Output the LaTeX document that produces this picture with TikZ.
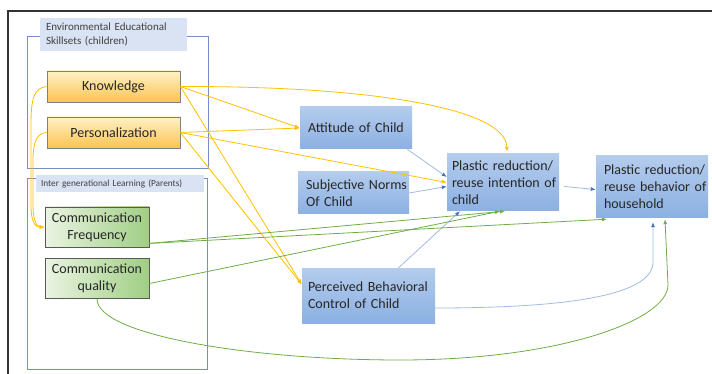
\documentclass[tikz,border=0pt]{standalone}
\usepackage{fontspec}
\setmainfont{Carlito}
\usetikzlibrary{arrows.meta,shadings}

\definecolor{ylwtop}{RGB}{255,241,200}
\definecolor{ylwbot}{RGB}{251,196,80}
\definecolor{ylwline}{RGB}{255,192,0}
\definecolor{grnleft}{RGB}{234,244,226}
\definecolor{grnright}{RGB}{160,206,132}
\definecolor{grnline}{RGB}{112,173,71}
\definecolor{blutop}{RGB}{180,204,237}
\definecolor{blubot}{RGB}{139,176,226}
\definecolor{bluline}{RGB}{162,186,228}
\definecolor{bluhead}{RGB}{68,114,196}
\definecolor{grpline}{RGB}{118,143,200}
\definecolor{grpfill}{RGB}{218,227,243}
\definecolor{boxline}{RGB}{128,128,128}

\begin{document}
\begin{tikzpicture}[x=1pt,y=-1pt,
  every node/.style={font=\fontsize{14}{17}\selectfont, text=black!85},
  ylwbox/.style={draw=boxline, line width=0.8pt, top color=ylwtop, bottom color=ylwbot,
    minimum width=133pt, minimum height=31pt, inner sep=0pt},
  grnbox/.style={draw=black!65, line width=0.8pt, left color=grnleft, right color=grnright,
    minimum width=104pt, minimum height=40pt, inner sep=0pt, align=center},
  blubox/.style={top color=blutop, bottom color=blubot, inner ysep=0pt, align=left},
  grpframe/.style={draw=grpline, line width=0.8pt},
  grptitle/.style={fill=grpfill, inner ysep=0pt, align=left, text=black!75},
  ylwarrow/.style={draw=ylwline, line width=0.8pt, -{Latex[length=5pt,width=4pt]}},
  bluarrow/.style={draw=bluline, line width=0.8pt, -{Latex[length=5pt,width=4pt,color=bluhead]}},
  grnarrow/.style={draw=grnline, line width=0.8pt, -{Latex[length=5pt,width=4pt]}}
]
\useasboundingbox (0,0) rectangle (712,374);

% page frame
\draw[line width=1.3pt, black!80] (8,374) -- (8,11) -- (712,11);

% group frames and their titles
\draw[grpframe] (27,36) rectangle (208,168);
\draw[grpframe] (27,178) rectangle (207,369);
\node[grptitle, minimum width=147pt, minimum height=33pt, inner xsep=6pt, text width=135pt,
  font=\fontsize{11}{14}\selectfont] (skills) at (113.5,34.5)
  {Environmental Educational\\Skillsets (children)};
\node[grptitle, minimum width=168pt, minimum height=17pt, inner xsep=5pt, text width=158pt,
  font=\fontsize{9.3}{11}\selectfont] (parents) at (120,183.5)
  {Inter generational Learning (Parents)};

% boxes
\node[ylwbox] (know) at (113.5,86.5) {Knowledge};
\node[ylwbox] (pers) at (113.5,132.5) {Personalization};
\node[grnbox] (cf) at (97,227) {Communication\\Frequency};
\node[grnbox] (cq) at (97,278.5) {Communication\\quality};

\node[blubox, minimum height=42pt, inner xsep=6pt, text width=100pt, align=center] (att) at (356,128)
  {Attitude of Child};
\node[blubox, minimum height=42pt, inner xsep=8pt, text width=95pt] (sn) at (353.5,193)
  {\mbox{Subjective Norms}\\Of Child};
\node[blubox, minimum height=57pt, inner xsep=5pt, text width=102pt] (int) at (503,182.5)
  {\mbox{Plastic reduction/}\\\mbox{reuse intention of}\\child};
\node[blubox, minimum height=62pt, inner xsep=8pt, text width=96pt] (beh) at (652,187)
  {\mbox{Plastic reduction/}\\\mbox{reuse behavior of}\\household};
\node[blubox, minimum height=55pt, inner xsep=6pt, text width=121pt] (pbc) at (368.5,295.5)
  {\mbox{Perceived Behavioral}\\Control of Child};

% skill-set links
\draw[ylwarrow] (know.east) -- (att.west);
\draw[ylwarrow] (pers.east) -- (att.west);
\draw[ylwarrow] (know.east) -- ([yshift=11pt]pbc.west);
\draw[ylwarrow] (pers.east) -- ([yshift=11pt]pbc.west);
\draw[ylwarrow] (pers.east) -- (int.west);
\draw[ylwarrow] (know.east) .. controls (370,86) and (506,108) .. ([xshift=4pt,yshift=2pt]int.north);
\draw[ylwarrow] (know.west) .. controls (34,88) and (31,98) .. (31,125) -- (31,205)
  .. controls (31,222) and (35,227) .. (cf.west);
\draw[ylwarrow] (pers.west) .. controls (38,133) and (33,140) .. (33,160) -- (33,205)
  .. controls (33,221) and (37,227) .. (cf.west);

% theory-of-planned-behaviour links
\draw[bluarrow] ([xshift=-5pt]att.south east) -- ([yshift=5.5pt]int.west);
\draw[bluarrow] (sn.east) -- ([yshift=-4pt]int.west);
\draw[bluarrow] ([xshift=30pt]pbc.north) -- ([xshift=-43pt]int.south);
\draw[bluarrow] ([xshift=5pt,yshift=-4pt]int.east) -- ([yshift=-2.5pt]beh.west);
\draw[bluarrow] ([yshift=-12.5pt]pbc.east) .. controls (570,308) and (653,295) .. (653,262)
  -- ([xshift=1pt,yshift=-4pt]beh.south);

% parent communication links
\draw[grnarrow] ([yshift=4pt]cf.south east) -- ([xshift=2pt]int.south);
\draw[grnarrow] ([yshift=4pt]cf.south east) -- ([xshift=-45pt,yshift=-1pt]beh.south);
\draw[grnarrow] ([yshift=-5pt]cq.east) -- ([xshift=-3pt]int.south);
\draw[grnarrow] (cq.south) .. controls (97,335) and (250,360) .. (400,360)
  .. controls (560,360) and (668,320) .. (668,285) -- ([xshift=13pt,yshift=-1pt]beh.south);
\end{tikzpicture}
\end{document}
